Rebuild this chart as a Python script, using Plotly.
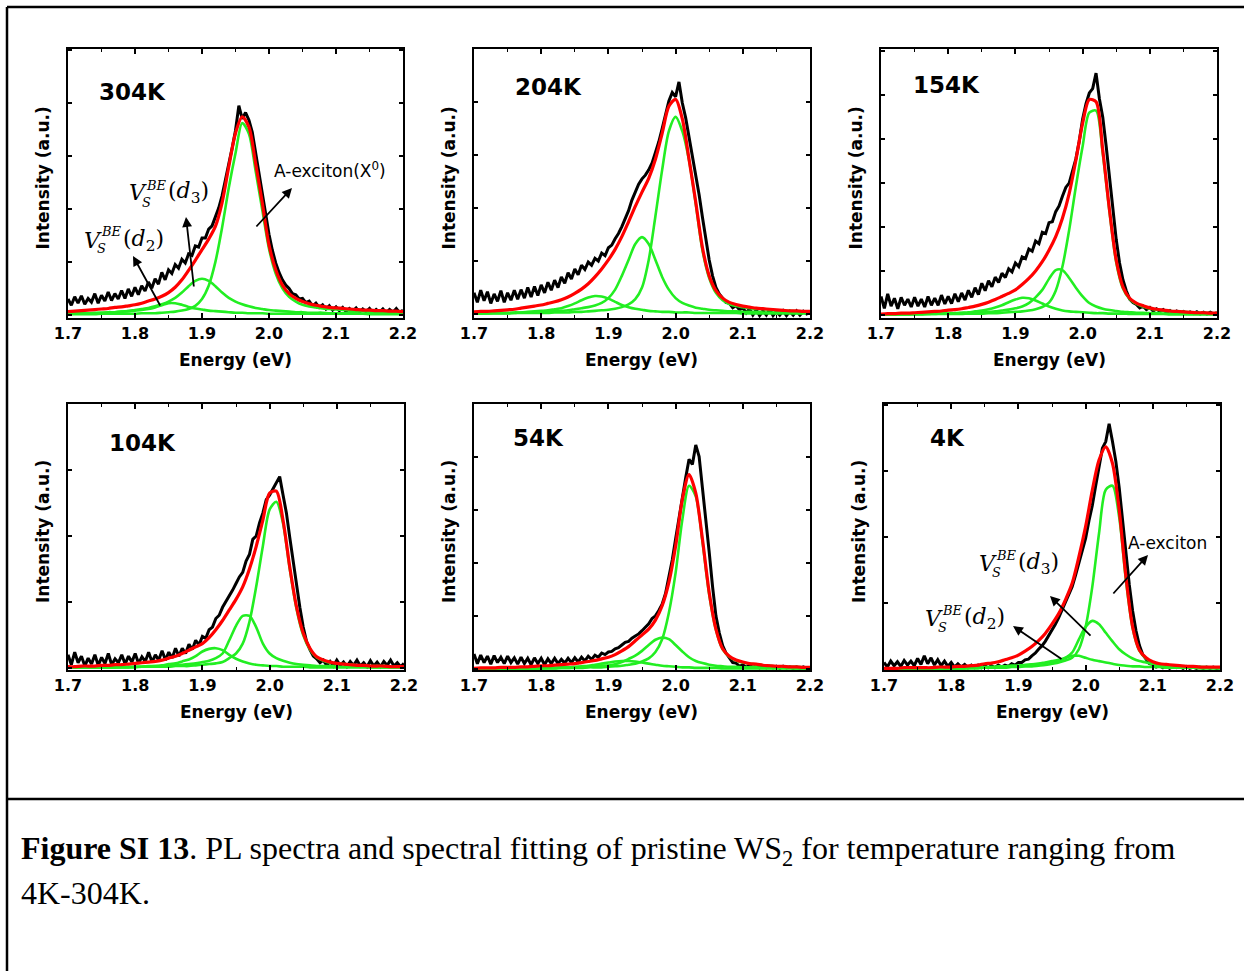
import numpy as np
import plotly.graph_objects as go

W, H = 1244, 971

# ---------------- data ----------------
temps = ["304K", "204K", "154K", "104K", "54K", "4K"]
energy_fit = [round(1.70 + 0.01 * i, 3) for i in range(51)]
energy_raw = [round(1.70 + 0.005 * i, 4) for i in range(101)]

# measured PL spectra (black)
raw_304 = [0.30,0.18,0.34,0.22,0.36,0.20,0.31,0.24,0.40,0.22,0.37,0.26,0.43,0.27,0.40,0.30,0.46,0.31,0.49,0.35,
           0.52,0.38,0.55,0.45,0.62,0.50,0.68,0.58,0.80,0.66,0.85,0.78,0.95,0.88,1.05,0.98,1.15,1.12,1.30,1.28,
           1.45,1.45,1.62,1.68,1.85,2.02,2.25,2.52,2.85,3.15,3.48,3.95,3.70,3.82,3.68,3.45,3.05,2.72,2.32,1.92,
           1.52,1.22,0.98,0.80,0.66,0.56,0.50,0.40,0.38,0.30,0.31,0.23,0.26,0.17,0.22,0.14,0.19,0.11,0.17,0.09,
           0.15,0.08,0.14,0.06,0.12,0.07,0.13,0.05,0.11,0.06,0.12,0.04,0.10,0.05,0.11,0.04,0.10,0.05,0.12,0.04,0.09]
raw_204 = [0.40,0.22,0.45,0.25,0.42,0.20,0.38,0.24,0.44,0.22,0.40,0.26,0.45,0.28,0.46,0.30,0.50,0.32,0.52,0.35,
           0.55,0.40,0.60,0.45,0.64,0.50,0.70,0.58,0.78,0.66,0.85,0.74,0.92,0.84,0.98,0.92,1.05,1.00,1.15,1.10,
           1.25,1.30,1.42,1.52,1.65,1.80,1.95,2.15,2.30,2.45,2.55,2.62,2.72,2.85,3.05,3.25,3.50,3.78,4.02,4.18,
           4.10,4.38,3.98,3.70,3.35,3.02,2.62,2.25,1.82,1.42,1.02,0.72,0.50,0.38,0.30,0.22,0.20,0.12,0.16,0.08,
           0.12,0.02,0.10,-0.02,0.08,-0.03,0.06,-0.02,0.09,-0.03,0.05,-0.02,0.06,-0.03,0.05,-0.02,0.06,-0.02,0.05,0.00,0.04]
raw_154 = [0.42,0.15,0.48,0.20,0.38,0.14,0.40,0.22,0.36,0.18,0.40,0.20,0.36,0.18,0.42,0.22,0.38,0.22,0.45,0.25,
           0.42,0.26,0.48,0.30,0.50,0.34,0.56,0.40,0.62,0.46,0.72,0.55,0.78,0.64,0.86,0.74,0.95,0.85,1.05,0.98,
           1.18,1.10,1.32,1.28,1.50,1.45,1.68,1.62,1.88,1.85,2.10,2.12,2.35,2.48,2.70,2.90,3.00,3.30,3.55,3.95,
           4.45,4.80,5.05,5.15,5.50,4.92,4.50,3.85,3.10,2.40,1.72,1.18,0.80,0.55,0.36,0.28,0.24,0.16,0.20,0.12,
           0.17,0.09,0.14,0.08,0.12,0.05,0.10,0.04,0.09,0.04,0.08,0.03,0.07,0.03,0.07,0.02,0.06,0.02,0.06,0.02,0.05]
raw_104 = [0.20,0.05,0.24,0.08,0.18,0.03,0.15,0.06,0.20,0.04,0.16,0.07,0.22,0.05,0.14,0.08,0.20,0.06,0.18,0.09,
           0.22,0.07,0.17,0.10,0.24,0.09,0.20,0.12,0.26,0.12,0.24,0.15,0.30,0.18,0.30,0.22,0.36,0.28,0.42,0.35,
           0.48,0.45,0.58,0.62,0.75,0.80,0.92,1.00,1.10,1.18,1.28,1.38,1.45,1.62,1.72,1.95,2.00,2.20,2.35,2.55,
           2.62,2.72,2.80,2.90,2.62,2.35,1.98,1.62,1.25,0.92,0.62,0.40,0.28,0.18,0.14,0.08,0.12,0.04,0.10,0.03,
           0.12,0.04,0.09,0.02,0.10,0.04,0.12,0.03,0.08,0.02,0.11,0.03,0.09,0.02,0.10,0.04,0.12,0.03,0.08,0.02,0.07]
raw_54 = [0.28,0.10,0.26,0.12,0.24,0.09,0.25,0.12,0.22,0.10,0.24,0.12,0.21,0.09,0.22,0.10,0.20,0.08,0.21,0.10,
          0.20,0.08,0.19,0.10,0.20,0.10,0.18,0.11,0.20,0.12,0.21,0.13,0.22,0.15,0.24,0.18,0.26,0.22,0.30,0.27,
          0.32,0.33,0.38,0.40,0.45,0.50,0.52,0.58,0.62,0.66,0.72,0.78,0.85,0.95,1.00,1.10,1.22,1.42,1.72,2.05,
          2.45,2.85,3.22,3.60,3.95,3.85,4.22,4.00,3.40,2.85,2.20,1.55,1.00,0.68,0.44,0.30,0.20,0.12,0.11,0.05,
          0.08,0.03,0.07,0.03,0.06,0.02,0.06,0.02,0.05,0.02,0.05,0.01,0.05,0.02,0.04,0.01,0.04,0.01,0.04,0.01,0.03]
raw_4 = [0.10,0.03,0.12,0.05,0.11,0.04,0.13,0.06,0.12,0.05,0.16,0.07,0.20,0.08,0.17,0.06,0.14,0.05,0.12,0.04,
         0.10,0.03,0.08,0.03,0.07,0.02,0.06,0.02,0.06,0.02,0.05,0.02,0.05,0.02,0.06,0.03,0.06,0.04,0.08,0.06,
         0.10,0.10,0.14,0.15,0.20,0.24,0.30,0.35,0.42,0.50,0.58,0.68,0.78,0.90,1.02,1.15,1.25,1.42,1.60,1.78,
         1.98,2.25,2.48,2.78,3.10,3.35,3.45,3.72,3.45,3.15,2.75,2.25,1.75,1.28,0.88,0.58,0.36,0.22,0.15,0.08,
         0.07,0.03,0.05,0.02,0.05,0.01,0.04,0.02,0.04,0.01,0.04,0.01,0.03,0.01,0.03,0.01,0.03,0.01,0.03,0.01,0.02]

# total fits (red)
fit_304 = [0.06,0.07,0.08,0.09,0.10,0.11,0.12,0.14,0.15,0.17,
           0.19,0.22,0.26,0.30,0.35,0.42,0.52,0.66,0.84,1.03,
           1.23,1.43,1.67,2.12,2.80,3.43,3.74,3.55,2.86,2.11,
           1.32,0.85,0.56,0.40,0.31,0.25,0.21,0.18,0.16,0.14,
           0.13,0.12,0.11,0.10,0.09,0.09,0.08,0.08,0.07,0.07,0.06]
fit_204 = [0.04,0.05,0.05,0.06,0.07,0.08,0.09,0.11,0.13,0.15,
           0.17,0.20,0.23,0.27,0.32,0.39,0.47,0.57,0.70,0.85,
           1.02,1.22,1.46,1.74,2.03,2.30,2.56,2.92,3.41,3.92,
           4.05,3.68,2.92,2.11,1.25,0.72,0.44,0.30,0.22,0.18,
           0.15,0.13,0.11,0.10,0.09,0.08,0.07,0.06,0.06,0.05,0.05]
fit_154 = [0.02,0.03,0.03,0.04,0.04,0.05,0.06,0.07,0.08,0.09,
           0.11,0.12,0.14,0.17,0.20,0.24,0.29,0.35,0.42,0.49,
           0.57,0.69,0.83,1.00,1.21,1.47,1.78,2.20,2.76,3.52,
           4.36,4.90,4.85,3.75,2.39,1.25,0.64,0.38,0.27,0.21,
           0.16,0.13,0.11,0.09,0.08,0.07,0.06,0.05,0.05,0.04,0.04]
fit_104 = [0.02,0.02,0.03,0.03,0.03,0.04,0.04,0.05,0.05,0.06,
           0.07,0.08,0.09,0.10,0.12,0.15,0.18,0.22,0.27,0.32,
           0.37,0.46,0.58,0.72,0.88,1.04,1.23,1.50,1.84,2.24,
           2.65,2.68,2.24,1.53,0.93,0.53,0.30,0.17,0.12,0.09,
           0.07,0.06,0.05,0.04,0.04,0.03,0.03,0.03,0.02,0.02,0.02]
fit_54 = [0.01,0.02,0.02,0.02,0.03,0.03,0.03,0.04,0.04,0.05,
          0.06,0.06,0.07,0.08,0.09,0.10,0.12,0.14,0.16,0.19,
          0.22,0.27,0.34,0.42,0.53,0.64,0.75,0.92,1.19,1.63,
          2.31,3.19,3.66,3.31,2.44,1.44,0.75,0.38,0.24,0.17,
          0.13,0.10,0.09,0.07,0.06,0.05,0.05,0.04,0.04,0.03,0.03]
fit_4 = [0.01,0.01,0.01,0.02,0.02,0.02,0.02,0.02,0.03,0.03,
         0.03,0.04,0.04,0.05,0.06,0.08,0.09,0.11,0.14,0.17,
         0.21,0.27,0.34,0.43,0.54,0.68,0.84,1.05,1.30,1.70,
         2.16,2.71,3.17,3.37,3.12,2.41,1.40,0.64,0.29,0.17,
         0.11,0.08,0.07,0.06,0.05,0.04,0.04,0.03,0.03,0.03,0.03]

# fitted components (green): A-exciton, V_S^BE(d3), V_S^BE(d2)
a_304 = [0.01,0.01,0.01,0.01,0.01,0.02,0.02,0.02,0.02,0.02,
         0.02,0.03,0.03,0.03,0.04,0.05,0.06,0.08,0.11,0.17,
         0.30,0.55,1.00,1.65,2.40,3.05,3.62,3.42,2.72,1.98,
         1.25,0.78,0.50,0.34,0.25,0.19,0.16,0.14,0.12,0.11,
         0.10,0.09,0.08,0.07,0.07,0.06,0.06,0.05,0.05,0.05,0.04]
d3_304 = [0.03,0.03,0.03,0.03,0.04,0.04,0.05,0.05,0.06,0.07,
          0.09,0.11,0.13,0.16,0.20,0.25,0.32,0.42,0.54,0.64,
          0.68,0.64,0.54,0.42,0.32,0.25,0.20,0.16,0.13,0.11,
          0.09,0.08,0.07,0.06,0.05,0.05,0.04,0.04,0.04,0.03,
          0.03,0.03,0.03,0.03,0.02,0.02,0.02,0.02,0.02,0.02,0.02]
d2_304 = [0.02,0.02,0.03,0.03,0.03,0.04,0.04,0.05,0.06,0.07,
          0.08,0.09,0.11,0.14,0.18,0.22,0.22,0.19,0.15,0.12,
          0.10,0.08,0.07,0.06,0.05,0.04,0.04,0.03,0.03,0.03,
          0.02,0.02,0.02,0.02,0.02,0.02,0.02,0.02,0.02,0.02,
          0.02,0.02,0.02,0.02,0.02,0.01,0.01,0.01,0.01,0.01,0.01]
a_204 = [0.01,0.01,0.01,0.01,0.01,0.01,0.02,0.02,0.02,0.02,
         0.02,0.02,0.03,0.03,0.03,0.04,0.04,0.05,0.06,0.07,
         0.08,0.10,0.13,0.18,0.28,0.50,1.02,1.85,2.72,3.45,
         3.72,3.45,2.90,2.08,1.20,0.68,0.40,0.26,0.19,0.15,
         0.13,0.11,0.10,0.09,0.08,0.07,0.06,0.06,0.05,0.05,0.04]
d3_204 = [0.01,0.01,0.01,0.02,0.02,0.02,0.02,0.03,0.03,0.03,
          0.04,0.05,0.05,0.06,0.07,0.09,0.11,0.13,0.16,0.21,
          0.30,0.46,0.72,1.02,1.32,1.45,1.32,1.02,0.70,0.46,
          0.30,0.21,0.16,0.12,0.10,0.08,0.07,0.06,0.05,0.05,
          0.04,0.04,0.04,0.03,0.03,0.03,0.03,0.03,0.02,0.02,0.02]
d2_204 = [0.01,0.01,0.02,0.02,0.02,0.02,0.03,0.03,0.04,0.05,
          0.06,0.07,0.09,0.11,0.15,0.20,0.26,0.31,0.34,0.33,
          0.29,0.23,0.17,0.13,0.10,0.08,0.06,0.05,0.04,0.04,
          0.03,0.03,0.03,0.02,0.02,0.02,0.02,0.02,0.02,0.02,
          0.01,0.01,0.01,0.01,0.01,0.01,0.01,0.01,0.01,0.01,0.01]
a_154 = [0.01,0.01,0.01,0.01,0.01,0.01,0.01,0.02,0.02,0.02,
         0.02,0.02,0.02,0.03,0.03,0.03,0.04,0.04,0.05,0.06,
         0.07,0.08,0.10,0.13,0.18,0.28,0.55,1.10,1.93,2.92,
         3.83,4.60,4.65,3.67,2.35,1.20,0.60,0.36,0.25,0.19,
         0.14,0.12,0.10,0.09,0.08,0.07,0.06,0.05,0.05,0.04,0.04]
d3_154 = [0.01,0.01,0.01,0.01,0.01,0.02,0.02,0.02,0.02,0.03,
          0.03,0.03,0.04,0.04,0.05,0.06,0.07,0.08,0.10,0.12,
          0.15,0.19,0.27,0.40,0.57,0.82,1.02,1.02,0.84,0.62,
          0.42,0.27,0.19,0.14,0.11,0.09,0.07,0.06,0.05,0.05,
          0.04,0.04,0.03,0.03,0.03,0.03,0.02,0.02,0.02,0.02,0.02]
d2_154 = [0.01,0.01,0.01,0.01,0.02,0.02,0.02,0.02,0.03,0.03,
          0.04,0.04,0.05,0.06,0.08,0.10,0.13,0.17,0.22,0.29,
          0.35,0.39,0.38,0.33,0.26,0.19,0.14,0.10,0.08,0.07,
          0.06,0.05,0.04,0.04,0.03,0.03,0.03,0.02,0.02,0.02,
          0.02,0.02,0.02,0.01,0.01,0.01,0.01,0.01,0.01,0.01,0.01]
a_104 = [0.01,0.01,0.01,0.01,0.01,0.01,0.01,0.01,0.01,0.01,
         0.01,0.02,0.02,0.02,0.02,0.02,0.03,0.03,0.03,0.04,
         0.05,0.06,0.07,0.09,0.15,0.22,0.37,0.70,1.23,1.85,
         2.40,2.52,2.19,1.50,0.90,0.50,0.28,0.16,0.11,0.08,
         0.07,0.06,0.05,0.04,0.04,0.03,0.03,0.03,0.02,0.02,0.02]
d3_104 = [0.01,0.01,0.01,0.01,0.01,0.01,0.01,0.01,0.02,0.02,
          0.02,0.02,0.02,0.03,0.03,0.04,0.04,0.05,0.06,0.07,
          0.09,0.11,0.15,0.22,0.42,0.64,0.79,0.79,0.62,0.37,
          0.22,0.15,0.11,0.08,0.06,0.05,0.04,0.03,0.03,0.03,
          0.02,0.02,0.02,0.02,0.02,0.01,0.01,0.01,0.01,0.01,0.01]
d2_104 = [0.01,0.01,0.01,0.01,0.01,0.01,0.01,0.01,0.01,0.01,
          0.02,0.02,0.03,0.03,0.04,0.06,0.07,0.10,0.13,0.18,
          0.25,0.29,0.30,0.27,0.20,0.14,0.10,0.07,0.05,0.04,
          0.03,0.03,0.02,0.02,0.02,0.02,0.01,0.01,0.01,0.01,
          0.01,0.01,0.01,0.01,0.01,0.01,0.01,0.01,0.01,0.01,0.01]
a_54 = [0.01,0.01,0.01,0.01,0.01,0.01,0.01,0.01,0.01,0.01,
        0.01,0.01,0.01,0.02,0.02,0.02,0.02,0.03,0.03,0.03,
        0.04,0.05,0.06,0.08,0.10,0.14,0.20,0.32,0.56,1.06,
        1.81,2.81,3.45,3.25,2.40,1.40,0.74,0.37,0.23,0.16,
        0.12,0.10,0.08,0.07,0.06,0.05,0.05,0.04,0.04,0.03,0.03]
d3_54 = [0.01,0.01,0.01,0.01,0.01,0.01,0.01,0.01,0.01,0.01,
         0.01,0.02,0.02,0.02,0.02,0.03,0.03,0.04,0.05,0.06,
         0.07,0.09,0.13,0.19,0.25,0.34,0.45,0.55,0.59,0.56,
         0.45,0.33,0.22,0.15,0.11,0.08,0.06,0.05,0.04,0.04,
         0.03,0.03,0.03,0.02,0.02,0.02,0.02,0.02,0.01,0.01,0.01]
d2_54 = [0.01,0.01,0.01,0.01,0.01,0.01,0.01,0.01,0.01,0.01,
         0.02,0.02,0.02,0.03,0.03,0.04,0.05,0.06,0.08,0.10,
         0.12,0.14,0.15,0.15,0.14,0.12,0.10,0.08,0.06,0.05,
         0.04,0.03,0.03,0.02,0.02,0.02,0.02,0.01,0.01,0.01,
         0.01,0.01,0.01,0.01,0.01,0.01,0.01,0.01,0.01,0.01,0.01]
a_4 = [0.01,0.01,0.01,0.01,0.01,0.01,0.01,0.01,0.01,0.01,
       0.01,0.01,0.01,0.01,0.01,0.02,0.02,0.02,0.02,0.03,
       0.03,0.04,0.04,0.05,0.06,0.08,0.10,0.13,0.17,0.30,
       0.64,1.25,2.06,2.72,2.78,2.30,1.35,0.62,0.28,0.16,
       0.10,0.08,0.06,0.05,0.04,0.04,0.03,0.03,0.03,0.02,0.02]
d3_4 = [0.01,0.01,0.01,0.01,0.01,0.01,0.01,0.01,0.01,0.01,
        0.01,0.01,0.01,0.02,0.02,0.02,0.03,0.03,0.04,0.05,
        0.05,0.06,0.07,0.08,0.09,0.11,0.13,0.17,0.25,0.45,
        0.64,0.73,0.68,0.55,0.42,0.30,0.22,0.16,0.12,0.10,
        0.07,0.06,0.05,0.04,0.04,0.03,0.03,0.03,0.02,0.02,0.02]
d2_4 = [0.01,0.01,0.01,0.01,0.01,0.01,0.01,0.01,0.01,0.01,
        0.01,0.01,0.02,0.02,0.02,0.03,0.03,0.04,0.04,0.05,
        0.05,0.06,0.07,0.08,0.10,0.12,0.14,0.17,0.20,0.20,
        0.17,0.14,0.12,0.10,0.08,0.06,0.05,0.04,0.04,0.03,
        0.03,0.03,0.02,0.02,0.02,0.02,0.02,0.01,0.01,0.01,0.01]

raw = [raw_304, raw_204, raw_154, raw_104, raw_54, raw_4]
fits = [fit_304, fit_204, fit_154, fit_104, fit_54, fit_4]
comps = [[a_304, d3_304, d2_304], [a_204, d3_204, d2_204], [a_154, d3_154, d2_154],
         [a_104, d3_104, d2_104], [a_54, d3_54, d2_54], [a_4, d3_4, d2_4]]
y_ranges = [[-0.06, 5.02], [-0.075, 5.0], [-0.07, 6.05], [-0.03, 4.0], [-0.02, 4.99], [-0.015, 4.02]]
x_tick_vals = [1.7, 1.8, 1.9, 2.0, 2.1, 2.2]
x_tick_text = ["1.7", "1.8", "1.9", "2.0", "2.1", "2.2"]

# ---------------- layout geometry (pixels) ----------------
panel_x = [(68, 403), (474, 810), (881, 1217), (68, 404), (474, 810), (884, 1220)]
panel_y = [(49, 318), (49, 318), (49, 318), (404, 670), (404, 670), (404, 670)]
label_pos = [(97, 92), (513, 87), (911, 85), (107, 443), (511, 438), (928, 438)]

def px(x):
    return x / W

def py(y):
    return 1 - y / H

SANS = "DejaVu Sans"
SERIF = "DejaVu Serif"

fig = go.Figure()
layout_axes = {}
annotations = []

for i in range(6):
    k = "" if i == 0 else str(i + 1)
    xa, ya = "x" + k, "y" + k
    fig.add_trace(go.Scatter(x=energy_raw, y=raw[i], mode="lines", xaxis=xa, yaxis=ya,
                             line=dict(color="black", width=3), showlegend=False))
    for c in comps[i]:
        fig.add_trace(go.Scatter(x=energy_fit, y=c, mode="lines", xaxis=xa, yaxis=ya,
                                 line=dict(color="#22ee22", width=2.6, shape="spline", smoothing=0.8),
                                 showlegend=False))
    fig.add_trace(go.Scatter(x=energy_fit, y=fits[i], mode="lines", xaxis=xa, yaxis=ya,
                             line=dict(color="#ff0000", width=3.2, shape="spline", smoothing=0.8),
                             showlegend=False))
    x0, x1 = panel_x[i]
    y0, y1 = panel_y[i]
    layout_axes["xaxis" + k] = dict(
        domain=[px(x0), px(x1)], anchor=ya, range=[1.7, 2.2], automargin=False,
        tickmode="array", tickvals=x_tick_vals, ticktext=x_tick_text,
        ticks="inside", ticklen=5, tickwidth=1.5, tickcolor="black",
        minor=dict(tickmode="array", tickvals=[1.75, 1.85, 1.95, 2.05, 2.15], ticks="inside",
                   ticklen=3, tickwidth=1.2, tickcolor="black"),
        showline=True, linewidth=2, linecolor="black", mirror="allticks",
        showgrid=False, zeroline=False,
        tickfont=dict(family=SANS, size=16, color="black", weight="bold"))
    layout_axes["yaxis" + k] = dict(
        domain=[py(y1), py(y0)], anchor=xa, range=y_ranges[i], automargin=False,
        tickmode="linear", tick0=0, dtick=1,
        ticks="inside", ticklen=4, tickwidth=1.5, tickcolor="black",
        showticklabels=False,
        showline=True, linewidth=2, linecolor="black", mirror="allticks",
        showgrid=False, zeroline=False)
    annotations.append(dict(text="Energy (eV)", x=px((x0 + x1) / 2), y=py(y1 + 42),
                            xref="paper", yref="paper", showarrow=False, xanchor="center", yanchor="middle",
                            font=dict(family=SANS, size=17, color="black", weight="bold")))
    annotations.append(dict(text="Intensity (a.u.)", x=px(x0 - 25), y=py((y0 + y1) / 2 - 5),
                            xref="paper", yref="paper", showarrow=False, xanchor="center", yanchor="middle",
                            textangle=-90,
                            font=dict(family=SANS, size=17, color="black", weight="bold")))
    lx, ly = label_pos[i]
    annotations.append(dict(text=temps[i], x=px(lx), y=py(ly), xref="paper", yref="paper",
                            showarrow=False, xanchor="left", yanchor="middle",
                            font=dict(family=SANS, size=23, color="black", weight="bold")))

def arrow(tail, head):
    annotations.append(dict(x=px(head[0]), y=py(head[1]), xref="paper", yref="paper",
                            ax=tail[0] - head[0], ay=tail[1] - head[1], axref="pixel", ayref="pixel",
                            text="", showarrow=True, arrowhead=2, arrowsize=1.1, arrowwidth=1.8,
                            arrowcolor="black"))

def plain(text, x, y):
    annotations.append(dict(text=text, x=px(x), y=py(y), xref="paper", yref="paper",
                            showarrow=False, xanchor="left", yanchor="middle",
                            font=dict(family=SANS, size=17, color="black")))

def vs_label(x, y, d):
    f = dict(family=SERIF, size=22, color="black")
    fs = dict(family=SERIF, size=13, color="black")
    annotations.append(dict(text="<i>V</i>", x=px(x), y=py(y), xref="paper", yref="paper",
                            showarrow=False, xanchor="left", yanchor="middle", font=f))
    annotations.append(dict(text="<i>BE</i>", x=px(x + 17), y=py(y - 8), xref="paper", yref="paper",
                            showarrow=False, xanchor="left", yanchor="middle", font=fs))
    annotations.append(dict(text="<i>S</i>", x=px(x + 13), y=py(y + 9), xref="paper", yref="paper",
                            showarrow=False, xanchor="left", yanchor="middle", font=fs))
    annotations.append(dict(text="(<i>d</i><sub>%s</sub>)" % d, x=px(x + 39), y=py(y), xref="paper",
                            yref="paper", showarrow=False, xanchor="left", yanchor="middle", font=f))

plain("A-exciton(X<sup>0</sup>)", 272, 170)
arrow((255, 228), (292, 188))
vs_label(127, 193, "3")
arrow((194, 288), (186, 217))
vs_label(82, 240, "2")
arrow((161, 307), (133, 256))

plain("A-exciton", 1126, 543)
arrow((1112, 595), (1148, 555))
vs_label(977, 563, "3")
arrow((1092, 637), (1050, 596))
vs_label(923, 618, "2")
arrow((1063, 660), (1013, 626))

CAP = dict(family="Liberation Serif", size=32, color="black")
annotations.append(dict(text="<b>Figure SI 13</b>. PL spectra and spectral fitting of pristine WS<sub>2</sub> for temperature ranging from",
                        x=px(19), y=py(850), xref="paper", yref="paper", showarrow=False,
                        xanchor="left", yanchor="middle", font=CAP))
annotations.append(dict(text="4K-304K.", x=px(19), y=py(893), xref="paper", yref="paper",
                        showarrow=False, xanchor="left", yanchor="middle", font=CAP))

shapes = [
    dict(type="line", xref="paper", yref="paper", x0=px(7), x1=1, y0=py(7), y1=py(7),
         line=dict(color="black", width=2.5)),
    dict(type="line", xref="paper", yref="paper", x0=px(7), x1=px(7), y0=py(7), y1=0,
         line=dict(color="black", width=2.5)),
    dict(type="line", xref="paper", yref="paper", x0=px(7), x1=1, y0=py(799), y1=py(799),
         line=dict(color="black", width=2.5)),
]

fig.update_layout(width=W, height=H, margin=dict(l=0, r=0, t=0, b=0, pad=0, autoexpand=False),
                  paper_bgcolor="white", plot_bgcolor="white", showlegend=False,
                  annotations=annotations, shapes=shapes, **layout_axes)

fig.write_html("out.html")
